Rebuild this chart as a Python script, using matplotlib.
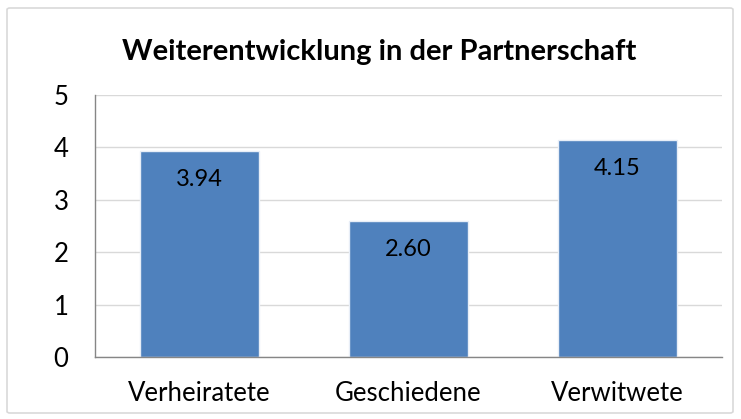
import matplotlib.pyplot as plt
from matplotlib.patches import FancyBboxPatch

categories = ["Verheiratete", "Geschiedene", "Verwitwete"]
values = [3.94, 2.60, 4.15]
value_labels = ["3.94", "2.60", "4.15"]
yticks = [0, 1, 2, 3, 4, 5]

plt.rcParams["font.family"] = ["Lato", "DejaVu Sans"]

W, H = 741, 419
fig = plt.figure(figsize=(W / 100, H / 100), dpi=100)

# light chart border like an Excel chart frame
frame = FancyBboxPatch(
    (7 / W, 6 / H), 726 / W, 405 / H,
    boxstyle="round,pad=0,rounding_size=0.004",
    transform=fig.transFigure, facecolor="none",
    edgecolor="#D9D9D9", linewidth=1.2, zorder=-1,
)
fig.patches.append(frame)

ax = fig.add_axes([95 / W, 1 - 357 / H, 627 / W, 262 / H])
ax.set_facecolor("none")

x = range(len(categories))
bars = ax.bar(x, values, width=0.565, color="#4F81BD",
              edgecolor="#E8EEF7", linewidth=1.0, zorder=3)

for rect, lab in zip(bars, value_labels):
    ax.annotate(lab, (rect.get_x() + rect.get_width() / 2, rect.get_height()),
                xytext=(0, -21), textcoords="offset points",
                ha="center", va="center", fontsize=17, color="black", zorder=4)

ax.set_xlim(-0.5, 2.5)
ax.set_ylim(0, 5)
ax.set_yticks(yticks)
ax.set_yticklabels([str(t) for t in yticks])
ax.set_xticks(list(x))
ax.set_xticklabels(categories)
ax.tick_params(axis="y", length=0, pad=19, labelsize=18.5)
ax.tick_params(axis="x", length=0, pad=17, labelsize=18.5)

ax.grid(axis="y", color="#D9D9D9", linewidth=1.0, zorder=0)
for side in ["top", "right"]:
    ax.spines[side].set_visible(False)
for side in ["left", "bottom"]:
    ax.spines[side].set_color("#868686")
    ax.spines[side].set_linewidth(1.0)
    ax.spines[side].set_zorder(5)

fig.text(379 / W, 1 - 52 / H, "Weiterentwicklung in der Partnerschaft",
         ha="center", va="center", fontsize=21, fontweight="bold")

fig.savefig("out.png", dpi=100)
